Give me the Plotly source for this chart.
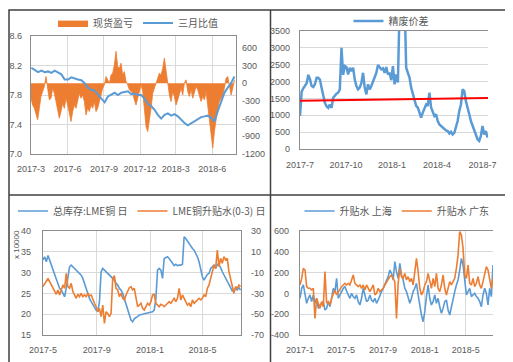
import plotly.graph_objects as go
import pandas as pd

# ---------------- DATA ----------------
# Panel 1: 现货盈亏 (columns, right axis) and 三月比值 (line, left axis)
p1_spot_pnl = [-255, -370, -425, -540, -620, -425, -225, -140, -57, 113, -140, -283, -255, -85, -170,
               -311, -425, -594, -480, -340, -425, -255, -370, -510, -650, -480, -370, -425, -283, -170,
               -255, -200, -311, -540, -425, -480, -370, -425, -311, -480, -425, -311, -200, -85, -28,
               113, 57, 0, 140, 170, 311, 540, 283, 255, 340, 140, 198, 28, -28, -113, -140, -170, -283,
               -370, -255, -113, -28, -140, -425, -736, -820, -650, -425, -170, -85, 0, 85, 170, 140, 255,
               425, 198, 28, -200, -311, -140, -225, -370, -283, -170, -85, -200, 0, 57, -140, -225, -113,
               -255, -140, -57, -113, -200, -311, -225, -283, -140, -370, -594, -877, -1100, -820, -594,
               -425, -311, -255, -200, -85, 85, 113, -28, -200, -85, 57]
p1_ratio = [8.17, 8.145, 8.11, 8.13, 8.11, 8.12, 8.10, 8.13, 8.11, 8.08, 8.01, 8.01, 8.04, 8.02, 8.01,
            8.00, 7.96, 7.90, 7.87, 7.86, 7.81, 7.76, 7.70, 7.78, 7.81, 7.83, 7.80, 7.83, 7.84, 7.85,
            7.81, 7.82, 7.80, 7.80, 7.75, 7.68, 7.65, 7.60, 7.53, 7.48, 7.53, 7.55, 7.52, 7.54, 7.51,
            7.46, 7.42, 7.39, 7.42, 7.45, 7.48, 7.50, 7.51, 7.52, 7.49, 7.44, 7.58, 7.71, 7.83, 7.90,
            7.96, 8.05]
p1_ticks = ['2017-03-01', '2017-06-01', '2017-09-01', '2017-12-01', '2018-03-01', '2018-06-01']
p1_ticktext = ['2017-3', '2017-6', '2017-9', '2017-12', '2018-3', '2018-6']
p1_left_ticks = [7.0, 7.4, 7.8, 8.2, 8.6]
p1_left_text = ['7.0', '7.4', '7.8', '8.2', '8.6']
p1_right_ticks = [-1200, -900, -600, -300, 0, 300, 600]
p1_right_text = ['-1200', '-900', '-600', '-300', '0', '300', '600']

# Panel 2: 精废价差
p2_spread = [980, 1700, 1800, 1870, 1950, 2200, 2070, 1870, 1840, 1920, 2110, 2110, 2060, 1820, 1570,
             1370, 1270, 1220, 1320, 1220, 1520, 1600, 1640, 1670, 1770, 3000, 2200, 2460, 2430, 2210,
             2410, 2310, 2410, 2060, 1870, 1770, 1820, 1960, 2260, 1820, 1620, 1920, 1770, 1870, 2020,
             2160, 2260, 2490, 2430, 2360, 2390, 2260, 2430, 2210, 2260, 2040, 2460, 1920, 2210, 1970,
             4200, 4600, 4800, 4400, 2410, 2260, 2120, 1820, 1620, 1420, 1280, 1230, 1080, 930, 1080,
             1230, 1320, 1280, 1670, 1230, 1130, 980, 1030, 830, 730, 680, 650, 610, 550, 530, 460,
             510, 430, 480, 630, 830, 1130, 1320, 1770, 1720, 1420, 1180, 1030, 830, 680, 530, 430,
             290, 240, 390, 680, 430, 530, 340]
p2_trend = [1430, 1510]
p2_ticks = ['2017-07-01', '2017-10-01', '2018-01-01', '2018-04-01', '2018-07-01']
p2_ticktext = ['2017-7', '2017-10', '2018-1', '2018-4', '2018-7']

# Panel 3: 总库存:LME铜 日 (left, x10000) and LME铜升贴水(0-3) 日 (right)
p3_stock = [33.0, 33.8, 32.6, 34.1, 33.0, 31.8, 30.6, 29.4, 28.2, 27.0, 26.2, 25.8, 24.8, 24.2, 26.2,
            29.4, 31.4, 31.8, 31.4, 31.0, 30.6, 30.2, 29.8, 29.4, 28.6, 27.4, 25.8, 24.6, 23.8, 23.0,
            22.2, 21.6, 21.0, 20.6, 23.0, 30.2, 31.0, 30.6, 30.2, 29.6, 29.3, 29.0, 28.6, 28.2, 27.4,
            27.0, 26.2, 25.8, 25.0, 23.8, 22.6, 21.4, 19.8, 18.6, 18.2, 18.9, 19.2, 19.4, 19.8, 20.0,
            20.0, 20.1, 20.2, 20.4, 20.5, 20.6, 20.6, 21.0, 23.8, 30.6, 31.0, 30.6, 28.6, 33.4, 33.6,
            33.8, 33.4, 32.8, 32.2, 31.7, 32.0, 31.7, 31.8, 31.8, 32.0, 38.6, 38.2, 37.6, 36.8, 36.2,
            35.8, 35.4, 34.6, 33.8, 32.6, 31.0, 29.0, 28.2, 29.0, 29.6, 29.8, 31.0, 31.4, 31.8, 31.0,
            32.0, 31.8, 31.2, 30.2, 29.4, 28.6, 27.8, 27.0, 26.2, 25.6, 25.8, 26.2, 25.8, 26.4, 25.8]
p3_premium = [-23.5, -20.3, -18.7, -15.5, -18.7, -21.9, -25.1, -28.3, -30.9, -26.7, -31.5, -26.7, -21.9,
              -25.1, -10.7, -23.5, -25.1, -20.3, -28.3, -31.5, -34.7, -30.9, -33.1, -29.9, -33.1, -31.5,
              -33.1, -29.9, -32.2, -31.5, -34.7, -39.5, -42.8, -47.6, -44.4, -52.4, -41.2, -58.8, -47.6,
              -49.2, -52.4, -49.2, -15.5, -12.9, -25.1, -26.7, -33.1, -29.9, -34.7, -36.3, -31.5, -28.3,
              -24.5, -23.5, -26.7, -25.1, -34.7, -42.8, -41.2, -39.5, -44.4, -46.0, -42.8, -39.5, -41.2,
              -37.9, -31.5, -30.9, -39.5, -41.2, -42.8, -40.5, -41.2, -42.8, -41.2, -39.5, -37.9, -39.5,
              -36.3, -34.7, -37.9, -34.7, -25.1, -36.3, -31.5, -34.7, -37.9, -41.2, -39.5, -42.8, -36.3,
              -39.5, -37.9, -36.3, -34.7, -36.3, -34.7, -31.5, -33.1, -25.1, -21.9, -15.5, -7.5, -2.7,
              -5.9, 11.7, -4.3, 3.7, -1.1, 5.3, 2.1, 3.7, -9.1, -17.1, -25.1, -29.9, -23.5, -25.1,
              -21.9, -23.5]
p3_ticks = ['2017-05-01', '2017-09-01', '2018-01-01', '2018-05-01']
p3_ticktext = ['2017-5', '2017-9', '2018-1', '2018-5']
p3_left_ticks = [15, 20, 25, 30, 35, 40]
p3_right_ticks = [-70, -50, -30, -10, 10, 30]
p3_right_text = ['-70', '-50', '-30', '-10', '10', '30']

# Panel 4: 升贴水 上海 / 升贴水 广东
p4_shanghai = [-47, 49, 81, -15, -95, -47, -15, -79, -15, -95, -47, -144, -111, -95, -79, -160, -144,
               -79, -128, -47, 49, 17, 145, -47, -15, 17, 49, 65, 17, -15, -47, 1, -31, -47, -15, -79,
               -111, -47, 49, -15, -79, -63, -15, -63, -79, -47, -95, -63, -15, 17, 49, 81, 129, 161,
               225, 193, 129, 305, 209, 145, 289, 177, 129, 49, 17, -31, -95, -47, 17, 49, 97, -15,
               -128, -208, -272, -176, -31, 81, -47, -111, -79, -15, -95, -47, -128, -192, -144, -79,
               -63, -160, -208, -128, -31, 17, 81, 129, 225, 337, 273, 113, -15, 17, 49, -31, -15, 1,
               -31, -47, -79, -128, -15, 49, 1, -111, 49, -31, 273]
p4_guangdong = [81, 145, 241, 225, 65, 49, 49, 33, 49, -240, -47, -95, -144, -79, -128, 209, -95, -79,
                -111, -47, 1, 33, -15, 17, 49, 65, 81, 97, 81, 97, 81, 129, 177, 97, 81, 65, 81, 49, 81,
                33, 81, 49, 17, 49, 81, -15, 1, 49, 17, 33, 49, 81, 113, 129, 161, 177, 145, 113, -240,
                97, 241, 161, 145, 193, 129, 161, 113, 145, 81, 193, 337, 209, 49, -15, 17, 81, 113,
                193, 113, 49, 145, 65, 193, 49, 17, 81, 177, 49, -15, 49, 113, 81, 113, 145, 241, 369,
                594, 561, 433, 177, 145, 273, 97, 81, 145, 65, 97, 161, 81, 49, 113, 177, 257, 225, 113,
                49, 145]
p4_ticks = ['2017-01-01', '2017-05-01', '2017-09-01', '2018-01-01', '2018-05-01']
p4_ticktext = ['2017-1', '2017-5', '2017-9', '2018-1', '2018-5']
p4_left_ticks = [-400, -200, 0, 200, 400, 600]
p4_left_text = ['-400', '-200', '0', '200', '400', '600']

# date axes for the series
p1_bar_dates = pd.date_range('2017-03-01', '2018-07-27', periods=len(p1_spot_pnl))
p1_line_dates = pd.date_range('2017-03-02', '2018-07-27', periods=len(p1_ratio))
p2_dates = pd.date_range('2017-07-01', '2018-07-11', periods=len(p2_spread))
p2_trend_dates = ['2017-07-01', '2018-07-12']
p3_dates = pd.date_range('2017-05-01', '2018-07-27', periods=len(p3_stock))
p4_dates = pd.date_range('2017-01-01', '2018-07-20', periods=len(p4_shanghai))

# ---------------- STYLE ----------------
W, H = 513, 362
BLUE = '#5B9BD5'
ORANGE = '#ED7D31'
GRID = '#D9D9D9'
AXIS = '#8C8C8C'
TICKC = '#595959'
FONT = 'Liberation Sans, Noto Sans CJK SC, sans-serif'
CJK = 'Noto Sans CJK SC, sans-serif'


def dx(a, b):
    return [a / W, b / W]


def dy(top, bottom):
    return [1 - bottom / H, 1 - top / H]


tickfont = dict(family=FONT, size=9, color=TICKC)
legfont = dict(family=CJK, size=10, color=TICKC)

fig = go.Figure()

# Panel 1 (spot P&L drawn as dense daily columns -> filled to zero)
fig.add_trace(go.Scatter(x=p1_bar_dates, y=p1_spot_pnl, name='现货盈亏', xaxis='x', yaxis='y',
                         mode='lines', fill='tozeroy', fillcolor=ORANGE,
                         line=dict(color=ORANGE, width=0.8), legend='legend'))
fig.add_trace(go.Scatter(x=p1_line_dates, y=p1_ratio, name='三月比值', mode='lines', xaxis='x', yaxis='y2',
                         line=dict(color=BLUE, width=2), legend='legend'))
# Panel 2
fig.add_trace(go.Scatter(x=p2_dates, y=p2_spread, name='精废价差', mode='lines', xaxis='x2', yaxis='y3',
                         line=dict(color=BLUE, width=2.5), legend='legend2'))
fig.add_trace(go.Scatter(x=p2_trend_dates, y=p2_trend, name='趋势', mode='lines', xaxis='x2', yaxis='y3',
                         line=dict(color='#FF0000', width=2), showlegend=False))
# Panel 3
fig.add_trace(go.Scatter(x=p3_dates, y=p3_stock, name='总库存:LME铜 日', mode='lines', xaxis='x3', yaxis='y4',
                         line=dict(color=BLUE, width=1.6), legend='legend3'))
fig.add_trace(go.Scatter(x=p3_dates, y=p3_premium, name='LME铜升贴水(0-3) 日', mode='lines', xaxis='x3', yaxis='y5',
                         line=dict(color=ORANGE, width=1.6), legend='legend3'))
# Panel 4
fig.add_trace(go.Scatter(x=p4_dates, y=p4_shanghai, name='升贴水 上海', mode='lines', xaxis='x4', yaxis='y6',
                         line=dict(color=BLUE, width=1.6), legend='legend4'))
fig.add_trace(go.Scatter(x=p4_dates, y=p4_guangdong, name='升贴水 广东', mode='lines', xaxis='x4', yaxis='y6',
                         line=dict(color=ORANGE, width=1.6), legend='legend4'))


def xax(domain, anchor, rng, ticks, text, grid=True, standoff=5):
    return dict(domain=domain, anchor=anchor, type='date', range=rng, tickvals=ticks, ticktext=text,
                showgrid=grid, gridcolor=GRID, gridwidth=1, showline=True, linecolor=AXIS, linewidth=1.3,
                mirror=True, ticks='', tickfont=tickfont, ticklabelstandoff=standoff, zeroline=False,
                automargin=False, fixedrange=True)


def yax(domain, anchor, rng, ticks, text=None, side='left', grid=True, standoff=6, overlay=None):
    d = dict(domain=domain, anchor=anchor, range=rng, tickmode='array', tickvals=ticks,
             ticktext=text if text is not None else [str(t) for t in ticks], side=side, showgrid=grid,
             gridcolor=GRID, gridwidth=1, showline=True, linecolor=AXIS, linewidth=1.3, ticks='',
             tickfont=tickfont, ticklabelstandoff=standoff, zeroline=False, automargin=False)
    if overlay:
        d['overlaying'] = overlay
    return d


P1X, P1Y = dx(23, 228), dy(28, 146)
P2X, P2Y = dx(292, 480), dy(23, 141)
P3X, P3Y = dx(35, 233), dy(223, 327)
P4X, P4Y = dx(292, 485), dy(223, 327)

fig.update_layout(
    width=W, height=H, margin=dict(l=0, r=0, t=0, b=0, autoexpand=False),
    paper_bgcolor='white', plot_bgcolor='white',
    xaxis=xax(P1X, 'y', ['2017-03-01', '2018-07-31'], p1_ticks, p1_ticktext, standoff=6),
    yaxis=yax(P1Y, 'x', [-1200, 800], p1_right_ticks, p1_right_text, side='right', grid=False, standoff=3),
    yaxis2=yax(P1Y, 'x', [7.0, 8.6], p1_left_ticks, p1_left_text, side='left', grid=True, standoff=6,
               overlay='y'),
    xaxis2=xax(P2X, 'y3', ['2017-07-01', '2018-07-12'], p2_ticks, p2_ticktext, grid=False, standoff=7),
    yaxis3=yax(P2Y, 'x2', [0, 3500], [0, 500, 1000, 1500, 2000, 2500, 3000, 3500], standoff=7),
    xaxis3=xax(P3X, 'y4', ['2017-05-01', '2018-07-28'], p3_ticks, p3_ticktext, standoff=6),
    yaxis4=yax(P3Y, 'x3', [15, 40], p3_left_ticks, standoff=9),
    yaxis5=yax(P3Y, 'x3', [-70, 30], p3_right_ticks, p3_right_text, side='right', grid=False, standoff=7,
               overlay='y4'),
    xaxis4=xax(P4X, 'y6', ['2017-01-01', '2018-07-20'], p4_ticks, p4_ticktext, standoff=6),
    yaxis6=yax(P4Y, 'x4', [-400, 600], p4_left_ticks, p4_left_text, standoff=8),
    legend=dict(x=130 / W, y=1 - 15 / H, xanchor='center', yanchor='middle', orientation='h',
                font=legfont, bgcolor='rgba(0,0,0,0)', itemwidth=30, tracegroupgap=0),
    legend2=dict(x=383 / W, y=1 - 13 / H, xanchor='center', yanchor='middle', orientation='h',
                 font=legfont, bgcolor='rgba(0,0,0,0)', itemwidth=30),
    legend3=dict(x=134 / W, y=1 - 203 / H, xanchor='center', yanchor='middle', orientation='h',
                 font=legfont, bgcolor='rgba(0,0,0,0)', itemwidth=30),
    legend4=dict(x=389 / W, y=1 - 203 / H, xanchor='center', yanchor='middle', orientation='h',
                 font=legfont, bgcolor='rgba(0,0,0,0)', itemwidth=30),
    annotations=[dict(text='x 10000', x=8 / W, y=1 - 237 / H, xref='paper', yref='paper', showarrow=False,
                      xanchor='center', yanchor='middle', textangle=-90,
                      font=dict(family=FONT, size=8, color=TICKC))],
    shapes=[
        dict(type='rect', xref='paper', yref='paper', x0=1 / W, x1=508 / W, y0=1 - 357 / H, y1=1 - 2 / H,
             line=dict(color='#404040', width=1.5)),
        dict(type='line', xref='paper', yref='paper', x0=262.5 / W, x1=262.5 / W, y0=1 - 357 / H, y1=1 - 2 / H,
             line=dict(color='#404040', width=1.5)),
        dict(type='line', xref='paper', yref='paper', x0=1 / W, x1=508 / W, y0=1 - 187 / H, y1=1 - 187 / H,
             line=dict(color='#404040', width=1.5)),
    ],
)

fig.write_html('out.html')
